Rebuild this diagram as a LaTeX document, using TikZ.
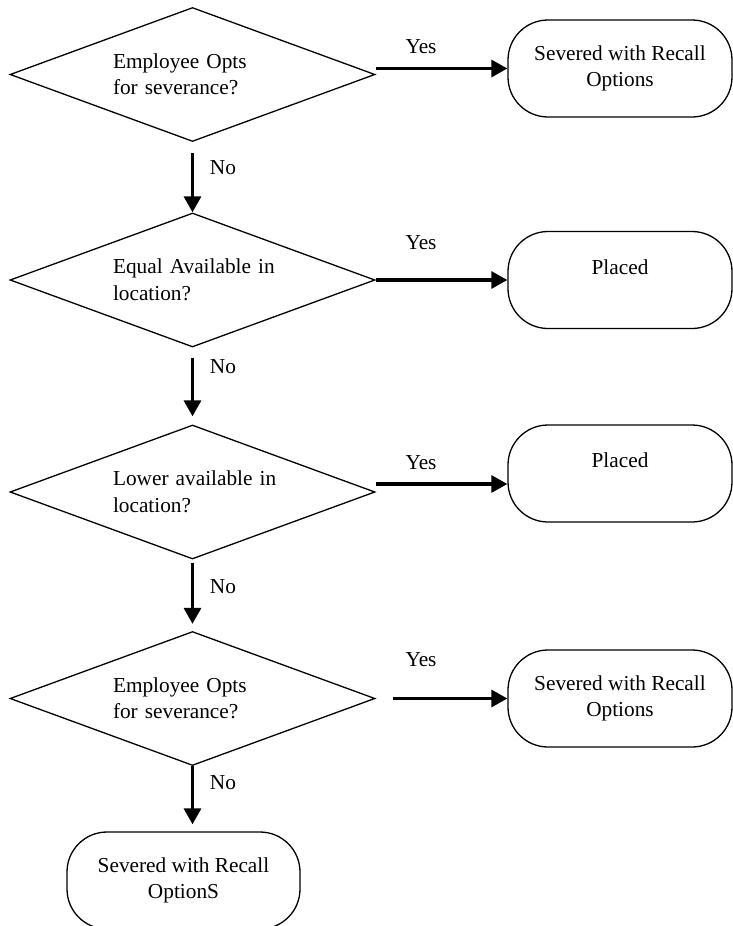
\documentclass[tikz,border=0pt]{standalone}
\usepackage{fontspec}
\setmainfont{Liberation Serif}
\usetikzlibrary{shapes.geometric,arrows.meta}
\begin{document}
\begin{tikzpicture}[x=1pt,y=-1pt,
  every node/.style={font=\fontsize{21.3}{26.5}\selectfont},
  dec/.style={draw, diamond, aspect=2.72, line width=1.3pt, minimum width=365pt, minimum height=134pt, inner sep=0pt, text width=159pt, align=left},
  term/.style={draw, rounded corners=40pt, line width=1.3pt, minimum width=224pt, minimum height=97pt, align=center, inner sep=0pt},
  arr/.style={line width=3.2pt, -{Triangle[length=16pt,width=17pt]}},
  lbl/.style={inner sep=0pt}]
\useasboundingbox (0,0) rectangle (733,926);
\clip (0,0) rectangle (733,926);

\node[dec] (d1) at (192.5,74.5) {\mbox{Employee Opts}\\\mbox{for severance?}};
\node[dec] (d2) at (192.5,280) {\mbox{Equal Available in}\\\mbox{location?}};
\node[dec] (d3) at (192.5,492) {\mbox{Lower available in}\\\mbox{location?}};
\node[dec] (d4) at (192.5,698.5) {\mbox{Employee Opts}\\\mbox{for severance?}};

\node[term] (t1) at (620,68.5) {Severed with Recall\\Options};
\node[term] (t2) at (620,280) {Placed\\\mbox{}};
\node[term] (t3) at (620,473.5) {Placed\\\mbox{}};
\node[term] (t4) at (620,698.5) {Severed with Recall\\Options};
\node[term, minimum width=233pt] (t5) at (183.5,880.5) {Severed with Recall\\OptionS};

\draw[arr] ([yshift=-11pt]d1.south) -- (d2.north);
\draw[arr] ([yshift=-10pt]d2.south) -- ([yshift=8pt]d3.north);
\draw[arr] ([yshift=-3pt]d3.south) -- ([yshift=7pt]d4.north);
\path ([yshift=7pt]d4.south |- t5.north) coordinate (b5);
\draw[arr] (d4.south) -- (b5);

\draw[arr] (d1.east |- t1.west) -- (t1.west);
\draw[arr] (d2.east |- t2.west) -- (t2.west);
\path ([yshift=8pt]d3.east) coordinate (y3s);
\draw[arr] (y3s) -- (y3s -| t3.west);
\path (d4.east |- t4.west) ++(17,0) coordinate (y4s);
\draw[arr] (y4s) -- (t4.west);

\node[lbl] (n1) at (223,168) {No};
\node[lbl] (n2) at (223,367) {No};
\node[lbl] (n3) at (223,587) {No};
\node[lbl] (n4) at (223,783) {No};

\node[lbl] (e1) at (421,47) {Yes};
\node[lbl] (e2) at (421,243) {Yes};
\node[lbl] (e3) at (421,463) {Yes};
\node[lbl] (e4) at (421,660) {Yes};
\end{tikzpicture}
\end{document}
